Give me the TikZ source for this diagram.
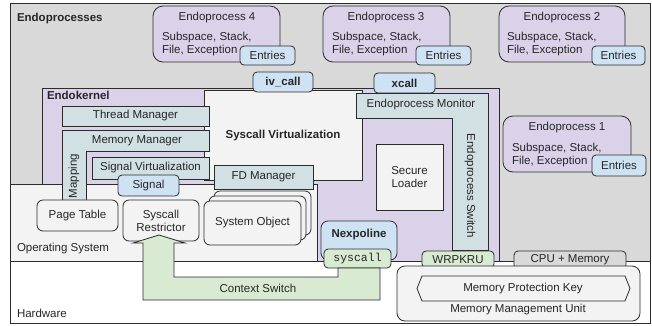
\documentclass[tikz,border=0pt]{standalone}
\usepackage{fontspec}
\setmainfont{Liberation Sans}
\setmonofont{Liberation Mono}
\definecolor{cgray}{HTML}{D9D9D9}
\definecolor{cpurp}{HTML}{D9D2E9}
\definecolor{cteal}{HTML}{D0E0E3}
\definecolor{cblue}{HTML}{CFE2F3}
\definecolor{cgreen}{HTML}{D9EAD3}
\definecolor{clg}{HTML}{F3F3F3}
\definecolor{cline}{HTML}{2B2B2B}
\newcommand{\boxnode}[7]{%
  \pgfmathsetmacro\mybw{#5-#3}\pgfmathsetmacro\mybh{#6-#4}%
  \pgfmathsetmacro\mybx{(#3+#5)/2}\pgfmathsetmacro\myby{(#4+#6)/2}%
  \node[#2, minimum width=\mybw pt, minimum height=\mybh pt] (#1) at (\mybx,\myby) {#7};}
\begin{document}
\begin{tikzpicture}[x=1pt,y=-1pt,
  every node/.style={inner sep=0pt, outer sep=0pt, font=\fontsize{11.5}{13}\selectfont, text=black!85},
  bx/.style={draw=cline, line width=0.8pt},
  rbx/.style={bx, rounded corners=4pt},
  epbox/.style={bx, fill=cpurp, rounded corners=10pt},
  entry/.style={rbx, fill=cblue},
  tealbox/.style={bx, fill=cteal},
  lgbox/.style={bx, fill=clg},
  objbox/.style={bx, fill=clg, rounded corners=6pt},
  lbl/.style={anchor=west},
  bold/.style={font=\fontsize{11.5}{13}\selectfont\bfseries}
]
\useasboundingbox (0,0) rectangle (652,325);
% frame
\boxnode{frame}{bx, fill=white}{10}{3}{650}{323}{}
\boxnode{endoproc}{bx, fill=cgray}{10}{3}{650}{261}{}
\node[lbl, bold] (tEndoprocesses) at (17,19) {Endoprocesses};
\node[lbl] (tHardware) at (17,313) {Hardware};
% endoprocesses
\boxnode{ep4}{epbox}{153}{6}{280}{62}{}
\node (ep4t) at (217,18) {Endoprocess 4};
\node[lbl, align=left] (ep4b) at (162,44) {Subspace, Stack,\\File, Exception};
\boxnode{ep4e}{entry}{240}{46}{295}{65}{Entries}
\boxnode{ep3}{epbox}{323}{6}{450}{62}{}
\node (ep3t) at (386,18) {Endoprocess 3};
\node[lbl, align=left] (ep3b) at (332,44) {Subspace, Stack,\\File, Exception};
\boxnode{ep3e}{entry}{416}{46}{471}{65}{Entries}
\boxnode{ep2}{epbox}{499}{6}{625}{62}{}
\node (ep2t) at (562,18) {Endoprocess 2};
\node[lbl, align=left] (ep2b) at (507,44) {Subspace, Stack,\\File, Exception};
\boxnode{ep2e}{entry}{592}{46}{645}{65}{Entries}
\boxnode{ep1}{epbox}{503}{116}{631}{172}{}
\node (ep1t) at (567,128) {Endoprocess 1};
\node[lbl, align=left] (ep1b) at (512,155) {Subspace, Stack,\\File, Exception};
\boxnode{ep1e}{entry}{592}{155}{646}{176}{Entries}
% endokernel
\boxnode{ek}{bx, fill=cpurp}{42}{88}{499}{261}{}
\node[lbl, bold] (tEndokernel) at (47,95) {Endokernel};
% operating system
\boxnode{os}{lgbox}{10}{184}{317}{261}{}
\node[lbl] (tOS) at (17,249) {Operating System};
% syscall virtualization
\boxnode{sv}{lgbox}{204}{90}{362}{180}{}
\node[bold] (tSV) at (283,136) {Syscall Virtualization};
\boxnode{tm}{tealbox}{62}{106}{209}{126}{Thread Manager}
\draw[tealbox] (62,130) -- (209,130) -- (209,151) -- (86,151) -- (86,206) -- (62,206) -- cycle;
\node (tMM) at (137,141) {Memory Manager};
\node[rotate=90] (tMapping) at (74,176) {Mapping};
\boxnode{sigv}{tealbox}{92}{157}{209}{179}{Signal Virtualization}
\boxnode{sig}{rbx, fill=cblue}{118}{175}{179}{196}{Signal}
\boxnode{fdm}{tealbox}{214}{165}{313}{189}{FD Manager}
\boxnode{ivcall}{rbx, fill=cblue, bold}{253}{72}{313}{92}{iv\_call}
\boxnode{xcall}{rbx, fill=cblue, bold}{374}{73}{435}{93}{xcall}
% endoprocess monitor / switch
\draw[tealbox] (356,93) -- (488,93) -- (488,250) -- (452,250) -- (452,118) -- (356,118) -- cycle;
\node (tEPM) at (421,105) {Endoprocess Monitor};
\node[rotate=-90] (tEPS) at (470,186) {Endoprocess Switch};
\boxnode{sl}{lgbox, align=center}{376}{144}{443}{210}{Secure\\Loader}
% nexpoline
\boxnode{nexp}{bx, fill=cblue, rounded corners=7pt}{321}{221}{397}{260}{}
\node[bold] (tNexp) at (359,235) {Nexpoline};
\boxnode{sysc}{rbx, fill=cgreen, font=\fontsize{11.5}{13}\selectfont\ttfamily}{324}{249}{391}{268}{syscall}
% OS objects
\boxnode{pt}{objbox}{37}{200}{118}{231}{Page Table}
\boxnode{sr}{objbox, align=center}{123}{200}{199}{241}{Syscall\\Restrictor}
\boxnode{so3}{objbox}{214}{191}{311}{235}{}
\boxnode{so2}{objbox}{209}{196}{306}{240}{}
\boxnode{so}{objbox}{204}{201}{301}{245}{System Object}
% context switch
\draw[bx, fill=cgreen] (143,300) -- (143,243) -- (133,243) -- (159,235) -- (185,243) -- (174,243)
  -- (174,277) -- (338,277) -- (338,268) -- (380,268) -- (380,300) -- cycle;
\node (tCS) at (258,288) {Context Switch};
% hardware
\boxnode{wrpkru}{rbx, fill=cgreen}{422}{251}{494}{268}{WRPKRU}
\boxnode{cpu}{rbx, fill=cgray}{514}{251}{626}{269}{CPU + Memory}
\boxnode{mmu}{bx, fill=clg, rounded corners=8pt}{397}{266}{640}{321}{}
\node (tMMU) at (518,310) {Memory Management Unit};
\draw[bx, fill=clg] (417,288.5) -- (422,276) -- (625,276) -- (630,288.5) -- (625,301) -- (422,301) -- cycle;
\node (tMPK) at (523,288.5) {Memory Protection Key};
\end{tikzpicture}
\end{document}
